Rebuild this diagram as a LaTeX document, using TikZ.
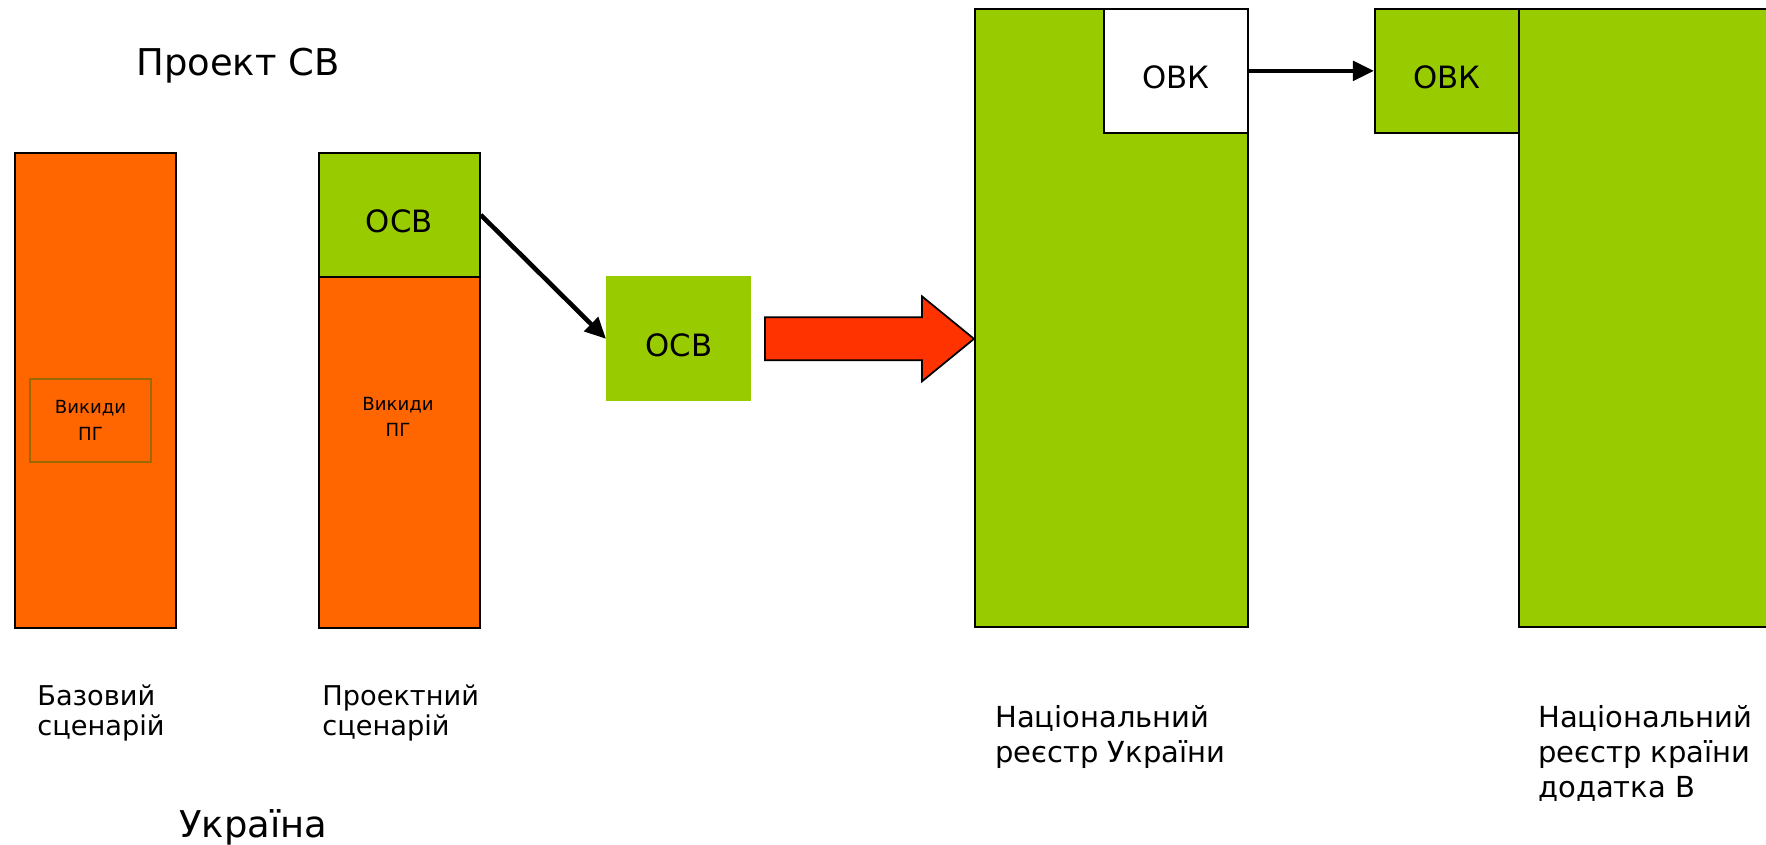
\documentclass[tikz,border=0pt]{standalone}
\usepackage{fontspec}
\setmainfont{DejaVu Sans}
\usetikzlibrary{arrows.meta}

\definecolor{orng}{HTML}{FF6600}
\definecolor{grn}{HTML}{99CC00}
\definecolor{redarr}{HTML}{FF3300}
\definecolor{olive}{HTML}{9C6800}

\newcommand{\pxu}{0.02cm}

\tikzset{
    bar/.style={draw=black, line width=1pt, inner sep=0pt, anchor=north west},
    plain/.style={inner sep=0pt, anchor=north west},
    caption/.style={anchor=base west, align=left, inner sep=0pt,
        font=\fontsize{15.5}{17}\selectfont},
    bigcaption/.style={anchor=base west, inner sep=0pt,
        font=\fontsize{21}{24}\selectfont},
    boxtext/.style={text height=20pt, font=\fontsize{17.5}{21}\selectfont},
    smalltext/.style={align=center, font=\fontsize{10.3}{15}\selectfont},
    flow/.style={-{Triangle[length=12pt,width=11pt]}, line width=2.6pt}
}

\begin{document}
\begin{tikzpicture}[x=\pxu, y=-\pxu]
    \useasboundingbox (0,0) rectangle (1766,845);
    \clip (0,0) rectangle (1766,845);

    % project title
    \node[bigcaption] (title) at (136,75) {Проект СВ};

    % base scenario
    \node[bar, fill=orng, minimum width=161*\pxu, minimum height=475*\pxu] (base) at (14,152) {};
    \node[draw=olive, line width=1pt, fill=orng, smalltext, inner sep=0pt,
        minimum width=121*\pxu, minimum height=83*\pxu] (emisbase) at (90.5,420.5) {Викиди\\ПГ};

    % project scenario
    \node[bar, fill=grn, boxtext, minimum width=161*\pxu, minimum height=124*\pxu] (osvproj) at (318,152) {ОСВ};
    \node[bar, fill=orng, minimum width=161*\pxu, minimum height=351*\pxu] (proj) at (318,276) {};
    \node[smalltext] (emisproj) at (398,417) {Викиди\\ПГ};

    % transferred units
    \node[plain, fill=grn, boxtext, minimum width=145*\pxu, minimum height=125*\pxu] (osv) at (606,276) {ОСВ};

    % national registries
    \node[bar, fill=grn, minimum width=273*\pxu, minimum height=618*\pxu] (natua) at (974,8) {};
    \node[bar, fill=white, boxtext, minimum width=144*\pxu, minimum height=124*\pxu] (ovkua) at (1103,8) {ОВК};
    \node[bar, fill=grn, boxtext, minimum width=144*\pxu, minimum height=124*\pxu] (ovkb) at (1374,8) {ОВК};
    \node[bar, fill=grn, minimum width=272*\pxu, minimum height=618*\pxu] (natb) at (1518,8) {};

    % captions (base = last line)
    \node[caption] (capbase) at (37,735) {Базовий\\сценарій};
    \node[caption] (capproj) at (322,735) {Проектний\\сценарій};
    \node[bigcaption] (country) at (179,837) {Україна};
    \node[caption, font=\fontsize{16.5}{19.8}\selectfont] (capua) at (995,762) {Національний\\реєстр України};
    \node[caption, font=\fontsize{16.5}{19.8}\selectfont] (capb) at (1538,797) {Національний\\реєстр країни\\додатка В};

    % draw arrows
    \draw[flow] (osvproj.east) -- (osv.west);
    \draw[flow] (ovkua.east) -- (ovkb.west);

    \coordinate (tip) at (natua.west |- osv.east);
    \draw[fill=redarr, line width=1pt, line join=miter] (tip) -- ++(-52,-42.5) -- ++(0,21) -- ++(-157,0)
        -- ++(0,43) -- ++(157,0) -- ++(0,21) -- cycle;
\end{tikzpicture}
\end{document}
